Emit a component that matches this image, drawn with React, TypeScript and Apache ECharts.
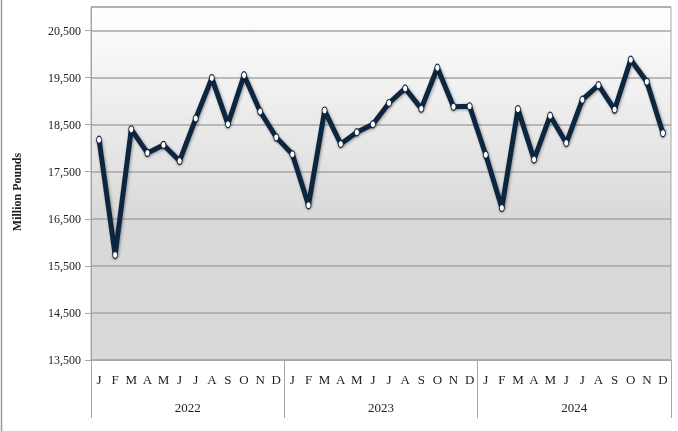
import React, { useEffect, useRef } from "react";
import * as echarts from "echarts";

const years = ["2022", "2023", "2024"];
const monthLetters = ["J", "F", "M", "A", "M", "J", "J", "A", "S", "O", "N", "D"];
const values2022 = [18180, 15730, 18400, 17900, 18070, 17730, 18630, 19490, 18510, 19550, 18780, 18230];
const values2023 = [17870, 16790, 18800, 18090, 18340, 18510, 18960, 19270, 18840, 19710, 18880, 18890];
const values2024 = [17860, 16730, 18830, 17760, 18690, 18110, 19030, 19340, 18820, 19880, 19410, 18320];
const yTicks = [13500, 14500, 15500, 16500, 17500, 18500, 19500, 20500];
const yAxisTitle = "Million Pounds";

const categories: string[] = [];
years.forEach((y) => monthLetters.forEach((m, i) => categories.push(`${m}|${y}|${i}`)));
const allValues = [...values2022, ...values2023, ...values2024];

export default function App() {
  const ref = useRef<HTMLDivElement>(null);
  useEffect(() => {
    if (!ref.current) return;
    const chart = echarts.init(ref.current, null, { renderer: "svg" });
    const font = "Liberation Serif";
    chart.setOption({
      animation: false,
      grid: {
        left: 91,
        right: 7,
        top: 7,
        bottom: 71,
        show: true,
        borderColor: "#a6a6a6",
        borderWidth: 1,
        backgroundColor: new echarts.graphic.LinearGradient(0, 0, 0, 1, [
          { offset: 0, color: "#ffffff" },
          { offset: 0.6, color: "#d9d9d9" },
          { offset: 1, color: "#d9d9d9" },
        ]),
      },
      graphic: [
        {
          type: "line",
          shape: { x1: 1.5, y1: 0, x2: 1.5, y2: 431 },
          style: { stroke: "#9a9a9a", lineWidth: 1.5 },
        },
        {
          type: "text",
          x: 17,
          y: 192,
          rotation: Math.PI / 2,
          style: {
            text: yAxisTitle,
            fontFamily: font,
            fontSize: 12,
            fontWeight: "bold",
            fill: "#222",
            align: "center",
            verticalAlign: "middle",
          },
        },
      ],
      xAxis: [
        {
          type: "category",
          data: categories,
          boundaryGap: true,
          axisLine: { show: true, lineStyle: { color: "#a6a6a6" } },
          axisTick: { show: false },
          axisLabel: {
            interval: 0,
            margin: 13,
            fontFamily: font,
            fontSize: 13,
            color: "#222",
            formatter: (v: string) => v.split("|")[0],
          },
          splitLine: { show: false },
        },
        {
          type: "category",
          data: years,
          position: "bottom",
          boundaryGap: true,
          axisLine: { show: false },
          axisTick: { show: true, interval: 0, length: 58, lineStyle: { color: "#a6a6a6" } },
          axisLabel: {
            interval: 0,
            margin: 41,
            fontFamily: font,
            fontSize: 13,
            color: "#222",
          },
          splitLine: { show: false },
        },
      ],
      yAxis: {
        type: "value",
        min: 13500,
        max: 21000,
        interval: 1000,
        axisLine: { show: true, lineStyle: { color: "#a6a6a6" } },
        axisTick: { show: true, length: 6, lineStyle: { color: "#a6a6a6" } },
        axisLabel: {
          margin: 10,
          fontFamily: font,
          fontSize: 12,
          color: "#222",
          showMaxLabel: false,
          formatter: (v: number) => (yTicks.includes(v) ? v.toLocaleString("en-US") : ""),
        },
        splitLine: { show: true, lineStyle: { color: "#a6a6a6", width: 1.5 } },
      },
      series: [
        {
          type: "line",
          data: allValues,
          xAxisIndex: 0,
          symbol: "circle",
          symbolSize: [5, 7],
          lineStyle: {
            color: "#10253f",
            width: 5,
            shadowColor: "rgba(0,0,0,0.35)",
            shadowBlur: 3,
            shadowOffsetX: 1,
            shadowOffsetY: 1,
          },
          itemStyle: {
            color: "#ffffff",
            borderColor: "#10253f",
            borderWidth: 1,
            shadowColor: "rgba(0,0,0,0.3)",
            shadowBlur: 2,
            shadowOffsetY: 1,
          },
          z: 5,
        },
      ],
    });
    return () => chart.dispose();
  }, []);
  return (
    <div
      ref={ref}
      style={{ position: "fixed", left: 0, top: 0, width: 678, height: 431 }}
    />
  );
}
